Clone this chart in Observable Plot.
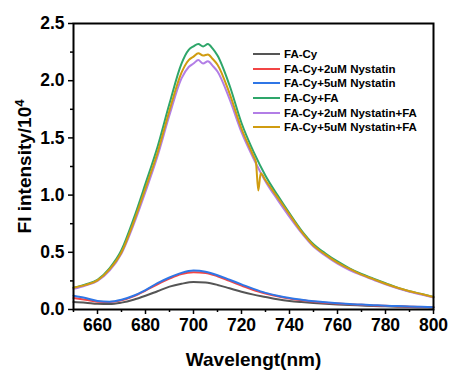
<!DOCTYPE html>
<html>
<head>
<meta charset="utf-8">
<script src="https://cdn.jsdelivr.net/npm/d3@7"></script>
<script src="https://cdn.jsdelivr.net/npm/@observablehq/plot@0.6"></script>
<style>
  html, body { margin: 0; padding: 0; background: #fff; }
  #wrap { position: relative; width: 451px; height: 371px; font-family: "Liberation Sans", Arial, sans-serif; }
  #legend { position: absolute; left: 253px; top: 47px; font-weight: bold; font-size: 11.5px; color: #000; }
  #legend .row { display: flex; align-items: center; height: 14.6px; white-space: nowrap; }
  #legend .sw { width: 27px; height: 2px; margin-right: 4px; }
</style>
</head>
<body>
<div id="wrap"><div id="legend"></div></div>
<script>
const seriesNames = ["FA-Cy", "FA-Cy+2uM Nystatin", "FA-Cy+5uM Nystatin", "FA-Cy+FA", "FA-Cy+2uM Nystatin+FA", "FA-Cy+5uM Nystatin+FA"];
const seriesColors = ["#555555", "#f24545", "#2f76e6", "#2ea66a", "#b27ee6", "#d09c10"];

const wlLow = [650,655,660,665,670,675,680,685,690,695,700,705,710,715,720,725,730,735,740,745,750,755,760,765,770,775,780,785,790,795,800];
const faCy =      [0.066,0.060,0.050,0.047,0.060,0.085,0.120,0.160,0.200,0.225,0.240,0.235,0.215,0.185,0.155,0.130,0.110,0.090,0.075,0.065,0.057,0.050,0.044,0.039,0.035,0.031,0.028,0.025,0.022,0.020,0.018];
const faCy2uM =   [0.100,0.085,0.068,0.065,0.080,0.115,0.165,0.220,0.270,0.310,0.325,0.320,0.290,0.250,0.210,0.170,0.140,0.115,0.095,0.080,0.070,0.060,0.053,0.046,0.041,0.036,0.032,0.028,0.025,0.022,0.020];
const faCy5uM =   [0.120,0.100,0.075,0.068,0.085,0.120,0.170,0.230,0.280,0.320,0.340,0.330,0.300,0.260,0.220,0.180,0.145,0.120,0.100,0.085,0.072,0.063,0.055,0.048,0.043,0.038,0.033,0.030,0.026,0.023,0.020];

const wlHigh = [650,655,660,665,670,675,680,685,690,695,698,700,702,704,706,708,710,715,720,725,730,735,740,745,750,755,760,765,770,775,780,785,790,795,800];
const faCyFA =    [0.19,0.22,0.26,0.36,0.52,0.79,1.10,1.42,1.80,2.15,2.27,2.30,2.32,2.30,2.32,2.28,2.22,1.96,1.63,1.38,1.17,1.00,0.84,0.69,0.57,0.49,0.42,0.36,0.31,0.27,0.23,0.19,0.16,0.135,0.11];
const faCy2uMFA = [0.18,0.21,0.25,0.34,0.49,0.74,1.03,1.34,1.70,2.02,2.12,2.15,2.18,2.15,2.17,2.13,2.08,1.84,1.55,1.32,1.12,0.96,0.81,0.67,0.55,0.47,0.40,0.345,0.30,0.26,0.22,0.185,0.155,0.13,0.105];

const wlOrange = [650,655,660,665,670,675,680,685,690,695,698,700,702,704,706,708,710,715,720,725,726,727,728,730,735,740,745,750,755,760,765,770,775,780,785,790,795,800];
const faCy5uMFA = [0.19,0.215,0.255,0.35,0.50,0.76,1.06,1.37,1.74,2.07,2.18,2.21,2.24,2.22,2.23,2.19,2.14,1.89,1.58,1.34,1.29,1.04,1.19,1.13,0.98,0.83,0.68,0.56,0.48,0.41,0.355,0.305,0.265,0.225,0.19,0.16,0.135,0.11];

const xTicks = [660,680,700,720,740,760,780,800];
const xMinor = [650,670,690,710,730,750,770,790];
const yTicks = [0,0.5,1.0,1.5,2.0,2.5];
const yMinor = [0.25,0.75,1.25,1.75,2.25];

const toRows = (wl, vals, name) => wl.map((w, i) => ({wl: w, v: vals[i], s: name}));
const data = [
  ...toRows(wlLow, faCy, seriesNames[0]),
  ...toRows(wlLow, faCy2uM, seriesNames[1]),
  ...toRows(wlLow, faCy5uM, seriesNames[2]),
  ...toRows(wlHigh, faCyFA, seriesNames[3]),
  ...toRows(wlHigh, faCy2uMFA, seriesNames[4]),
  ...toRows(wlOrange, faCy5uMFA, seriesNames[5])
];

const chart = Plot.plot({
  width: 451,
  height: 371,
  marginLeft: 73,
  marginRight: 18,
  marginTop: 23,
  marginBottom: 62,
  style: { fontFamily: "Liberation Sans, Arial, sans-serif", background: "white", color: "black", overflow: "visible" },
  x: { domain: [650, 800] },
  y: { domain: [0, 2.5] },
  color: { domain: seriesNames, range: seriesColors },
  marks: [
    Plot.line(data, { x: "wl", y: "v", z: "s", stroke: "s", strokeWidth: 2, curve: "monotone-x" }),
    Plot.frame({ stroke: "black", strokeWidth: 2 }),
    Plot.axisX({ ticks: xTicks, tickSize: 5, tickPadding: 4, tickFormat: d => String(d), fontSize: 17.5, fontWeight: "bold", strokeWidth: 1.5, label: "Wavelengt(nm)", labelAnchor: "center", labelArrow: "none", labelOffset: 56 }),
    Plot.axisX({ ticks: xMinor, tickSize: 3, tickFormat: () => "", strokeWidth: 1.5, label: null }),
    Plot.axisY({ ticks: yTicks, tickSize: 5, tickPadding: 4, tickFormat: d => d.toFixed(1), fontSize: 17.5, fontWeight: "bold", strokeWidth: 1.5, label: "Fl intensity/104", labelAnchor: "center", labelArrow: "none", labelOffset: 56 }),
    Plot.axisY({ ticks: yMinor, tickSize: 3, tickFormat: () => "", strokeWidth: 1.5, label: null })
  ]
});

chart.querySelectorAll("g[aria-label='x-axis label'] text, g[aria-label='y-axis label'] text").forEach(t => {
  t.setAttribute("font-size", "19");
  t.setAttribute("font-weight", "bold");
});
const yl = chart.querySelector("g[aria-label='y-axis label'] text");
if (yl) {
  yl.textContent = "";
  const ns = "http://www.w3.org/2000/svg";
  const t1 = document.createElementNS(ns, "tspan");
  t1.textContent = "Fl intensity/10";
  const t2 = document.createElementNS(ns, "tspan");
  t2.textContent = "4";
  t2.setAttribute("font-size", "13");
  t2.setAttribute("dy", "-7");
  yl.appendChild(t1);
  yl.appendChild(t2);
}

const wrap = document.getElementById("wrap");
wrap.insertBefore(chart, wrap.firstChild);

const legend = document.getElementById("legend");
seriesNames.forEach((n, i) => {
  const row = document.createElement("div");
  row.className = "row";
  const sw = document.createElement("div");
  sw.className = "sw";
  sw.style.background = seriesColors[i];
  const tx = document.createElement("span");
  tx.textContent = n;
  row.appendChild(sw);
  row.appendChild(tx);
  legend.appendChild(row);
});
</script>
</body>
</html>
